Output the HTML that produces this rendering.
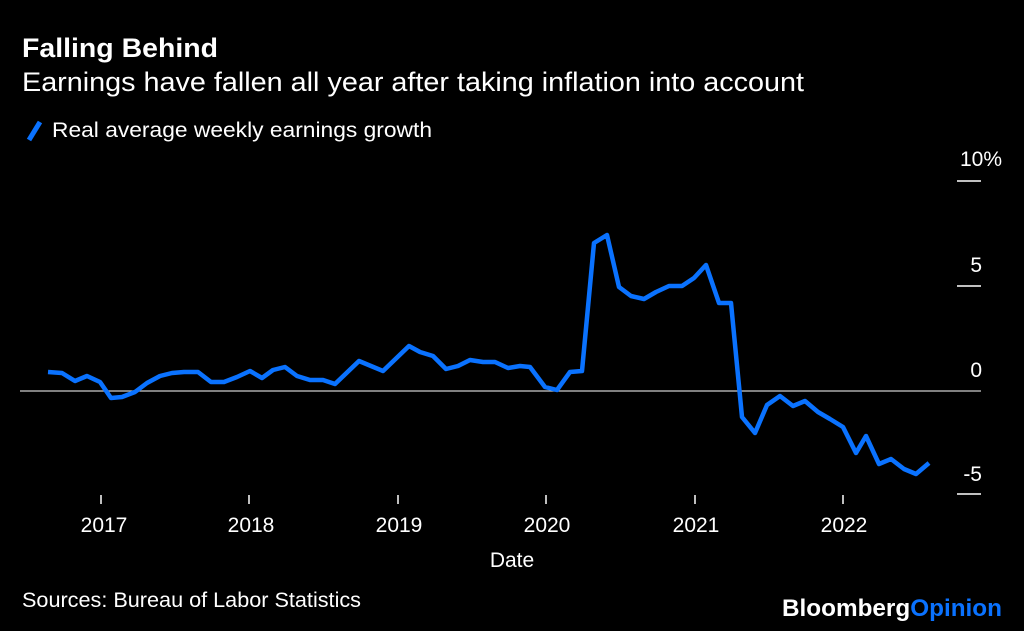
<!DOCTYPE html>
<html><head><style>
body{margin:0;background:#000;width:1024px;height:631px;overflow:hidden;font-family:"Liberation Sans",sans-serif;color:#fff}
</style></head><body>
<svg width="1024" height="631" viewBox="0 0 1024 631" style="position:absolute;left:0;top:0">
<text x="22" y="57" font-size="27" font-weight="bold" fill="#fff" textLength="196" lengthAdjust="spacingAndGlyphs">Falling Behind</text>
<text x="22" y="91" font-size="27" fill="#fff" textLength="782" lengthAdjust="spacingAndGlyphs">Earnings have fallen all year after taking inflation into account</text>
<line x1="29" y1="140" x2="40" y2="122" stroke="#0a72ff" stroke-width="5"/>
<text x="52" y="137" font-size="21" fill="#fff" textLength="380" lengthAdjust="spacingAndGlyphs">Real average weekly earnings growth</text>
<g stroke="#fff" stroke-width="1.5">
<line x1="957" y1="181" x2="981" y2="181"/>
<line x1="957" y1="286" x2="981" y2="286"/>
<line x1="957" y1="494" x2="981" y2="494"/>
</g>
<line x1="20" y1="391" x2="981" y2="391" stroke="#ccc" stroke-width="1.3"/>
<g font-size="21" fill="#fff" text-anchor="end">
<text x="1002" y="166">10%</text>
<text x="982" y="272">5</text>
<text x="982" y="377">0</text>
<text x="982" y="481">-5</text>
</g>
<g stroke="#fff" stroke-width="1.5">
<line x1="101" y1="495" x2="101" y2="504"/>
<line x1="249" y1="495" x2="249" y2="504"/>
<line x1="398" y1="495" x2="398" y2="504"/>
<line x1="546" y1="495" x2="546" y2="504"/>
<line x1="695" y1="495" x2="695" y2="504"/>
<line x1="843" y1="495" x2="843" y2="504"/>
</g>
<g font-size="21" fill="#fff" text-anchor="middle">
<text x="104" y="532">2017</text>
<text x="251" y="532">2018</text>
<text x="399" y="532">2019</text>
<text x="547" y="532">2020</text>
<text x="696" y="532">2021</text>
<text x="844" y="532">2022</text>
<text x="512" y="567">Date</text>
</g>
<polyline fill="none" stroke="#0a72ff" stroke-width="4.5" stroke-linejoin="round" points="48,372 62,373 75,381 87,376 100,382 111,398 122,397 135,392 147,383 160,376 172,373 184,372 198,372 211,382 224,382 237,377 250,371 262,378 273,370 285,367 297,376 310,380 323,380 335,384 359,361 371,366 383,371 409,346 420,352 433,356 446,369 458,366 470,360 483,362 495,362 508,368 520,366 530,367 545,387 557,390 570,372 582,371 594,243 607,235 619,287 631,296 644,299 656,292 669,286 682,286 694,278 706,265 719,303 731,303 742,417 755,433 767,405 780,396 793,406 805,401 818,412 830,419 843,427 856,453 866,436 879,464 891,459 904,469 916,474 929,463"/>
<text x="22" y="607" font-size="21" fill="#fff" textLength="339" lengthAdjust="spacingAndGlyphs">Sources: Bureau of Labor Statistics</text>
<text x="782" y="616" font-size="24" font-weight="bold" textLength="220" lengthAdjust="spacingAndGlyphs"><tspan fill="#fff">Bloomberg</tspan><tspan fill="#0a72ff">Opinion</tspan></text>
</svg>
</body></html>
